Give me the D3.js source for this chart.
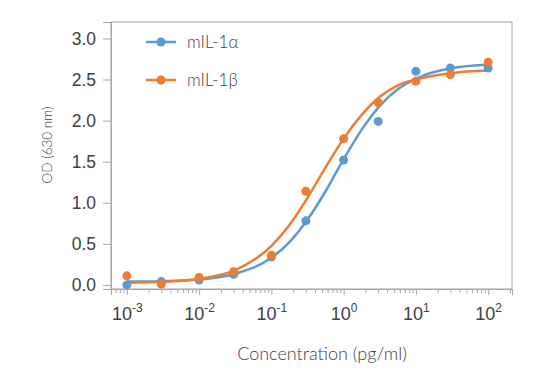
<!DOCTYPE html>
<html>
<head>
<meta charset="utf-8">
<style>
  html, body { margin:0; padding:0; background:#fff; }
  svg { font-family: Lato, "Open Sans", sans-serif; }
</style>
</head>
<body>
<svg id="chart" width="550" height="389"></svg>
<script src="https://cdn.jsdelivr.net/npm/d3@7/dist/d3.min.js"></script>
<script>
// measured points
const conc   = [0.001, 0.003, 0.01, 0.03, 0.1, 0.3, 1, 3, 10, 30, 100];
const alpha  = [0.00, 0.04, 0.06, 0.13, 0.34, 0.78, 1.52, 1.99, 2.60, 2.64, 2.64];
const beta   = [0.11, 0.01, 0.09, 0.16, 0.36, 1.14, 1.78, 2.22, 2.48, 2.56, 2.71];

// fitted curves (log10 concentration -> OD)
const fitLog   = [-3, -2.5, -2, -1.5, -1, -0.75, -0.5, -0.25, 0, 0.25, 0.5, 0.75, 1, 1.5, 2];
const fitAlpha = [0.04, 0.045, 0.065, 0.135, 0.33, 0.52, 0.795, 1.14, 1.53, 1.89, 2.18, 2.38, 2.51, 2.64, 2.68];
const fitBeta  = [0.025, 0.038, 0.075, 0.18, 0.475, 0.73, 1.06, 1.43, 1.78, 2.07, 2.29, 2.43, 2.50, 2.58, 2.61];

const yTicks = [0, 0.5, 1, 1.5, 2, 2.5, 3];
const xTicks = [-3, -2, -1, 0, 1, 2];

const series = [
  { name: "mIL-1\u03b1", color: "#5B9BD5", pts: alpha, fit: fitAlpha },
  { name: "mIL-1\u03b2", color: "#ED7D31", pts: beta,  fit: fitBeta }
];

const svg = d3.select("#chart");
const L = 111, R = 512, T = 22, B = 289;
const ink = "#404040", grid = "#a6a6a6";

const x = d3.scaleLog().domain([Math.pow(10, -3.22), Math.pow(10, 2.33)]).range([L, R]);
const y = d3.scaleLinear().domain([-0.05, 3.2]).range([B, T]);

// frame
svg.append("rect").attr("x", L).attr("y", T).attr("width", R - L).attr("height", B - T)
  .attr("fill", "none").attr("stroke", grid).attr("stroke-width", 1);

// y axis
const yAx = svg.append("g").attr("transform", `translate(${L},0)`)
  .call(d3.axisLeft(y).tickValues(yTicks).tickFormat(d3.format(".1f")).tickSize(8).tickPadding(7));
yAx.select(".domain").attr("stroke", grid);
yAx.selectAll(".tick line").attr("stroke", grid);
yAx.selectAll("text").attr("font-size", 17.5).attr("font-weight", 300).attr("fill", ink);

// x axis minor ticks
const minor = [];
for (let e = -4; e <= 2; e++) for (let m = 2; m <= 9; m++) {
  const v = m * Math.pow(10, e);
  if (v >= x.domain()[0] && v <= x.domain()[1]) minor.push(v);
}
const xg = svg.append("g").attr("transform", `translate(0,${B})`);
xg.append("g").call(d3.axisBottom(x).tickValues(minor).tickSize(4).tickFormat(""))
  .call(g => { g.select(".domain").remove(); g.selectAll("line").attr("stroke", grid); });
const xAx = xg.append("g")
  .call(d3.axisBottom(x).tickValues(xTicks.map(e => Math.pow(10, e))).tickSize(6).tickFormat(""));
xAx.select(".domain").attr("stroke", grid);
xAx.selectAll(".tick line").attr("stroke", grid);
xAx.selectAll(".tick").append("text")
  .attr("y", 31).attr("text-anchor", "middle").attr("fill", ink)
  .attr("font-size", 18).attr("font-weight", 300)
  .each(function(d) {
    const t = d3.select(this);
    t.append("tspan").text("10");
    t.append("tspan").attr("dy", -8).attr("font-size", 12).text(Math.round(Math.log10(d)));
  });

// axis titles
svg.append("text").attr("x", 322).attr("y", 360).attr("text-anchor", "middle")
  .attr("font-size", 18).attr("font-weight", 300).attr("fill", ink).text("Concentration (pg/ml)");
svg.append("text").attr("transform", "translate(52,145) rotate(-90)").attr("text-anchor", "middle")
  .attr("font-size", 13.5).attr("font-weight", 300).attr("fill", ink).text("OD (630 nm)");

// curves and points
const line = d3.line().x(d => x(Math.pow(10, d[0]))).y(d => y(d[1])).curve(d3.curveMonotoneX);
series.forEach(s => {
  svg.append("path").datum(fitLog.map((l, i) => [l, s.fit[i]]))
    .attr("d", line).attr("fill", "none").attr("stroke", s.color).attr("stroke-width", 2.5);
});
series.forEach(s => {
  svg.append("g").selectAll("circle").data(conc).join("circle")
    .attr("cx", d => x(d)).attr("cy", (d, i) => y(s.pts[i])).attr("r", 4.5)
    .attr("fill", s.color);
});

// legend
const lg = svg.append("g").selectAll("g").data(series).join("g")
  .attr("transform", (d, i) => `translate(146,${42 + i * 38})`);
lg.append("line").attr("x1", 0).attr("x2", 30).attr("stroke", d => d.color).attr("stroke-width", 2.5);
lg.append("circle").attr("cx", 15).attr("r", 4.5).attr("fill", d => d.color);
lg.append("text").attr("x", 41).attr("y", 6).attr("font-size", 17).attr("font-weight", 300)
  .attr("fill", ink).text(d => d.name);
</script>
</body>
</html>
